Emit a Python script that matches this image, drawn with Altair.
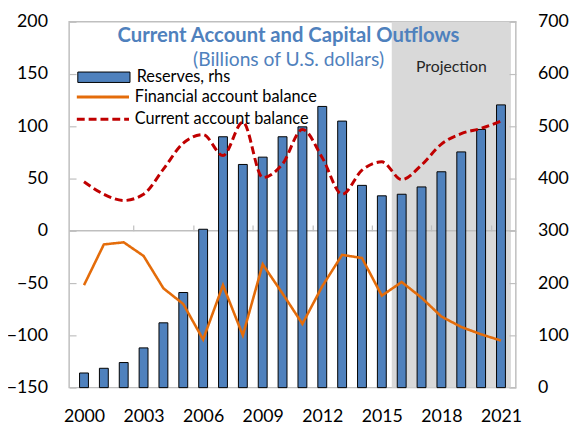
import altair as alt
import pandas as pd

# ---------------- data ----------------
years = list(range(2000, 2022))
reserves = [28, 37, 48, 76, 124, 182, 303, 480, 427, 441, 480, 499,
            538, 510, 387, 367, 370, 384, 413, 451, 494, 541]
financial = [-52, -13, -11, -24, -55, -70, -104, -52, -100, -32, -60, -89,
             -53, -23, -26, -62, -49, -64, -82, -92, -99, -105]
current = [47, 35, 29, 35, 59, 84, 92, 72, 104, 51, 64, 97,
           70, 35, 58, 66, 49, 63, 83, 93, 98, 105]

x_label_years = [2000, 2003, 2006, 2009, 2012, 2015, 2018, 2021]
x_tick_bounds = [2002.5, 2005.5, 2008.5, 2011.5, 2014.5, 2017.5, 2020.5]
left_ticks = [-150, -100, -50, 0, 50, 100, 150, 200]
right_ticks = [0, 100, 200, 300, 400, 500, 600, 700]

proj_start, proj_end = 2015.5, 2021.5
proj_label_y = 157

SER_RES = "Reserves, rhs"
SER_FIN = "Financial account balance"
SER_CUR = "Current account balance"

# ---------------- layout / style ----------------
W, H = 453, 371
FONT = "Lato"
GRAY = "#BFBFBF"
LEFT_DOM = [-150, 200]
RIGHT_DOM = [0, 700]
zero_px = H * LEFT_DOM[1] / (LEFT_DOM[1] - LEFT_DOM[0])

xscale = alt.Scale(domain=[1999.5, 2021.5], nice=False, zero=False)
lscale = alt.Scale(domain=LEFT_DOM, nice=False, zero=False)
rscale = alt.Scale(domain=RIGHT_DOM, nice=False, zero=False)

bars_df = pd.DataFrame({"year": years, "reserves": reserves, "series": SER_RES})
fin_df = pd.DataFrame({"year": years, "value": financial, "series": SER_FIN})
cur_df = pd.DataFrame({"year": years, "value": current, "series": SER_CUR})
shade_df = pd.DataFrame({
    "x0": [proj_start], "x1": [proj_end],
    "y0": [LEFT_DOM[0]], "y1": [LEFT_DOM[1]],
    "xm": [(proj_start + proj_end) / 2], "ym": [proj_label_y],
    "label": ["Projection"],
})
zero_df = pd.DataFrame({"zero": [0]})

label_style = dict(labelFont=FONT, labelFontSize=18, labelColor="black",
                   grid=False, title=None)
tick_only = dict(labels=False, domain=False, ticks=True, tickColor=GRAY,
                 tickWidth=1.2, grid=False, title=None, zindex=1)

# shaded projection area (+ bottom year labels, + inward ticks on right frame)
shade = alt.Chart(shade_df).mark_rect(color="#D9D9D9").encode(
    x=alt.X("x0:Q", scale=xscale,
            axis=alt.Axis(orient="bottom", values=x_label_years, format="d",
                          domain=False, ticks=False, labelPadding=20,
                          **label_style)),
    x2="x1:Q",
    y=alt.Y("y0:Q", scale=lscale,
            axis=alt.Axis(orient="left", offset=-W, values=left_ticks,
                          tickSize=7, **tick_only)),
    y2="y1:Q",
)

# zero line (+ inward ticks on left frame)
zero_rule = alt.Chart(zero_df).mark_rule(color=GRAY, strokeWidth=1.5).encode(
    y=alt.Y("zero:Q", scale=lscale,
            axis=alt.Axis(orient="right", offset=-W, values=left_ticks,
                          tickSize=7, **tick_only)),
)

# reserves bars on right axis (+ x boundary ticks at the zero line)
bars = alt.Chart(bars_df).mark_bar(size=9, stroke="black", strokeWidth=1).encode(
    x=alt.X("year:Q", scale=xscale,
            axis=alt.Axis(orient="top", offset=-zero_px, values=x_tick_bounds,
                          tickSize=6, **tick_only)),
    y=alt.Y("reserves:Q", scale=rscale,
            axis=alt.Axis(orient="right", values=right_ticks, ticks=False,
                          domain=False, labelPadding=22, **label_style)),
    fill=alt.Fill("series:N",
                  scale=alt.Scale(domain=[SER_RES], range=["#4F81BD"]),
                  legend=alt.Legend(orient="none", legendX=27, legendY=48,
                                    title=None, padding=0, labelLimit=0,
                                    symbolType="M-5,-1H5V1H-5Z", symbolSize=112,
                                    symbolStrokeColor="black",
                                    symbolStrokeWidth=1, labelOffset=25,
                                    labelFont=FONT, labelFontSize=16.5,
                                    labelColor="black")),
)

line_color = alt.Scale(domain=[SER_FIN, SER_CUR], range=["#E46C0A", "#C00000"])
line_dash = alt.Scale(domain=[SER_FIN, SER_CUR], range=[[1, 0], [8, 4]])
line_legend = alt.Legend(orient="none", legendX=26, legendY=68, title=None,
                         padding=0, labelLimit=0, symbolType="M-5,0H5",
                         symbolSize=112, symbolStrokeWidth=3, labelOffset=24,
                         rowPadding=5.5, labelFont=FONT, labelFontSize=16.5,
                         labelColor="black")

fin_line = alt.Chart(fin_df).mark_line(strokeWidth=2.6).encode(
    x=alt.X("year:Q", scale=xscale, axis=None),
    y=alt.Y("value:Q", scale=lscale,
            axis=alt.Axis(orient="left", values=left_ticks, ticks=False,
                          domain=False, labelPadding=22, **label_style)),
    color=alt.Color("series:N", scale=line_color, legend=line_legend),
    strokeDash=alt.StrokeDash("series:N", scale=line_dash, legend=line_legend),
)

cur_line = alt.Chart(cur_df).mark_line(strokeWidth=3, interpolate="monotone").encode(
    x=alt.X("year:Q", scale=xscale, axis=None),
    y=alt.Y("value:Q", scale=lscale, axis=None),
    color=alt.Color("series:N", scale=line_color, legend=line_legend),
    strokeDash=alt.StrokeDash("series:N", scale=line_dash, legend=line_legend),
)

proj_text = alt.Chart(shade_df).mark_text(font=FONT, fontSize=16,
                                          color="#262626").encode(
    x=alt.X("xm:Q", scale=xscale, axis=None),
    y=alt.Y("ym:Q", scale=lscale, axis=None),
    text="label:N",
)

chart = alt.layer(shade, zero_rule, bars, fin_line, cur_line, proj_text).resolve_scale(
    y="independent"
).resolve_axis(
    x="independent", y="independent"
).properties(
    width=W, height=H,
    autosize=alt.AutoSizeParams(type="none"),
    padding={"left": 62, "top": 11, "right": 60, "bottom": 40},
    title=alt.TitleParams(
        "Current Account and Capital Outflows",
        subtitle="(Billions of U.S. dollars)",
        anchor="middle", frame="group", offset=-57, dx=-4,
        font=FONT, fontSize=20.5, fontWeight="bold", color="#4F81BD",
        subtitleFont=FONT, subtitleFontSize=19.5, subtitleColor="#4F81BD",
        subtitlePadding=4,
    ),
).configure_view(
    stroke=GRAY, strokeWidth=1.5
)

chart.save("out.html", embed_options={"renderer": "svg", "actions": False})
